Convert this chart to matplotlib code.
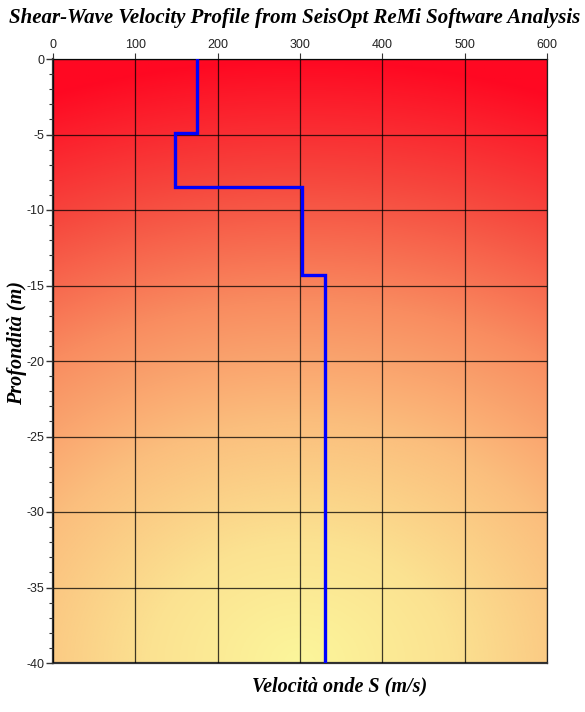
import numpy as np
import matplotlib
matplotlib.use('Agg')
import matplotlib.pyplot as plt
from matplotlib.ticker import MultipleLocator

plt.rcParams['axes.unicode_minus'] = False

# Vs profile (step function): layer tops/bottoms and velocities
layer_top = [0.0, -4.9, -8.5, -14.3]
layer_bot = [-4.9, -8.5, -14.3, -40.0]
vs = [175, 148, 302, 330]

x_ticks = [0, 100, 200, 300, 400, 500, 600]
y_ticks = [0, -5, -10, -15, -20, -25, -30, -35, -40]

title = 'Shear-Wave Velocity Profile from SeisOpt ReMi Software Analysis'
xlabel = 'Velocità onde S (m/s)'
ylabel = 'Profondità (m)'

W, H = 585, 712
fig = plt.figure(figsize=(W / 100, H / 100), dpi=100)
L, R, T, B = 53, 547, 59, 663
ax = fig.add_axes([L / W, 1 - B / H, (R - L) / W, (B - T) / H])

# radial background gradient, yellow at bottom centre -> red at top
nx, ny = 300, 360
px = np.linspace(0, R - L, nx)
py = np.linspace(0, B - T, ny)
PX, PY = np.meshgrid(px, py)
r = np.sqrt(((PX - (R - L) / 2) * 0.8) ** 2 + (PY - (B - T)) ** 2) / (B - T)
stops = [0.0, 0.2, 0.4, 0.6, 0.8, 1.0]
cols = np.array([[252, 246, 155], [251, 226, 145], [251, 190, 125],
                 [249, 140, 96], [246, 72, 62], [255, 8, 34]]) / 255.0
img = np.zeros((ny, nx, 3))
for c in range(3):
    img[..., c] = np.interp(r, stops, cols[:, c])
ax.imshow(img, extent=[0, 600, -40, 0], aspect='auto', zorder=0)

# step profile
xs, ys = [], []
for top, bot, v in zip(layer_top, layer_bot, vs):
    xs += [v, v]
    ys += [top, bot]
ax.plot(xs, ys, color='#0000ff', lw=2.4, zorder=3, solid_joinstyle='miter')

ax.set_xlim(0, 600)
ax.set_ylim(-40, 0)
ax.set_xticks(x_ticks)
ax.set_yticks(y_ticks)
ax.yaxis.set_minor_locator(MultipleLocator(1))
ax.xaxis.tick_top()
ax.grid(True, which='major', color='black', lw=0.9, alpha=0.75, zorder=2)
ax.set_axisbelow(False)

ax.tick_params(axis='x', which='major', top=True, bottom=False, length=4,
               width=0.8, labelsize=9, pad=2, colors='#333333',
               labelcolor='#222222')
ax.tick_params(axis='y', which='major', length=5, width=1.0, labelsize=9,
               pad=1, colors='#333333', labelcolor='#222222')
ax.tick_params(axis='y', which='minor', length=3, width=0.8, colors='#333333')
for lab in ax.get_xticklabels() + ax.get_yticklabels():
    lab.set_fontfamily('Liberation Sans')

for s in ['left', 'bottom']:
    ax.spines[s].set_linewidth(1.6)
    ax.spines[s].set_color('#333333')
for s in ['top', 'right']:
    ax.spines[s].set_linewidth(0.9)
    ax.spines[s].set_color('#222222')

fig.text(295 / W, 1 - 18 / H, title, ha='center', va='center',
         fontfamily='Liberation Serif', fontweight='bold', fontstyle='italic',
         fontsize=15)
fig.text(340 / W, 1 - 686 / H, xlabel, ha='center', va='center',
         fontfamily='Liberation Serif', fontweight='bold', fontstyle='italic',
         fontsize=14.5)
fig.text(17 / W, 1 - 343 / H, ylabel, ha='center', va='center', rotation=90,
         fontfamily='Liberation Serif', fontweight='bold', fontstyle='italic',
         fontsize=14.5)

fig.savefig('out.png', dpi=100)
